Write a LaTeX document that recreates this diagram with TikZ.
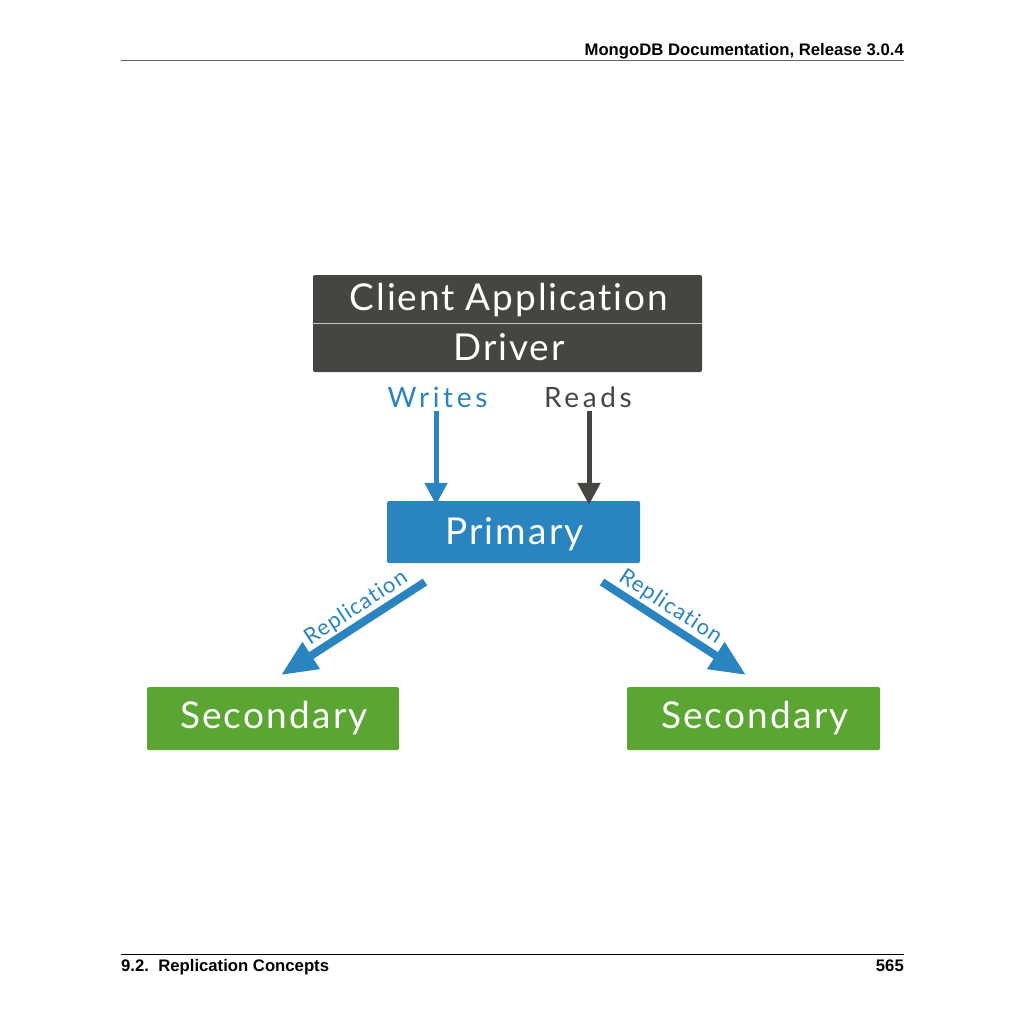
\documentclass[tikz,border=0pt]{standalone}
\usepackage{fontspec}
\setmainfont[Ligatures={NoCommon,NoDiscretionary,NoRare}]{Lato}
\newfontfamily\hdrfont{Liberation Sans}
\usetikzlibrary{arrows.meta}
\definecolor{darkbox}{HTML}{474541}
\definecolor{mblue}{HTML}{2A84C0}
\definecolor{mgreen}{HTML}{5BA532}
\tikzset{
  box/.style={rounded corners=1.5pt, inner sep=0pt},
  wtxt/.style={text=white, inner sep=0pt, anchor=base},
  bigtxt/.style={font=\fontsize{37}{42}\selectfont\addfontfeature{LetterSpace=5}},
  boxtxt/.style={font=\fontsize{37}{42}\selectfont\addfontfeature{LetterSpace=6}},
  lbl/.style={font=\fontsize{28}{32}\selectfont\addfontfeature{LetterSpace=13}, inner sep=0pt, anchor=base},
  replbl/.style={font=\fontsize{22}{26}\selectfont\addfontfeature{LetterSpace=5}, text=mblue, inner sep=0pt, anchor=base},
  hdr/.style={font=\hdrfont\bfseries\fontsize{16.7}{19}\selectfont, inner sep=0pt},
  vline/.style={line width=5pt, -{Triangle[length=22pt,width=22pt]}},
  rline/.style={line width=8pt, draw=mblue, -{Triangle[length=36pt,width=30pt]}},
}
\begin{document}
\begin{tikzpicture}[x=1pt,y=-1pt]
\useasboundingbox[fill=white] (0,0) rectangle (1025,1025);
% header / footer
\draw[line width=1pt, gray!80!black] (121,61) -- (904,61);
\node[hdr, anchor=base east] (hdrtxt) at (904,56) {MongoDB Documentation, Release 3.0.4};
\draw[line width=1pt, black] (121,954) -- (904,954);
\node[hdr, anchor=base west] (ftl) at (121,971) {9.2.\ \ Replication Concepts};
\node[hdr, anchor=base east] (ftr) at (904,971) {565};
% client box
\fill[darkbox, rounded corners=2pt] (313,275) rectangle (702,372);
\node[wtxt, bigtxt] (client) at (509,310) {Client Application};
\node[wtxt, bigtxt] (driver) at (509,360) {Driver};
\draw[white!70!darkbox, line width=1pt] (313,323) -- (702,323);
% labels
\node[lbl, text=mblue] (writes) at (437.5,407) {Writes};
\node[lbl, text=darkbox] (reads) at (588,407) {Reads};
% primary
\node[box, fill=mblue, minimum width=253pt, minimum height=62pt] (primary) at (513.5,532) {};
\node[wtxt, boxtxt] (primarytxt) at (514.5,544) {Primary};
% vertical arrows
\coordinate (wtop) at (436,411);
\coordinate (rtop) at (589,411);
\draw[vline, draw=mblue, fill=mblue] (wtop) -- ([yshift=-4pt]wtop |- primary.north);
\draw[vline, draw=darkbox, fill=darkbox] (rtop) -- ([yshift=-4pt]rtop |- primary.north);
% secondaries
\node[box, fill=mgreen, minimum width=252pt, minimum height=63pt] (sec1) at (273,718.5) {};
\node[wtxt, boxtxt] (sec1txt) at (274,728) {Secondary};
\node[box, fill=mgreen, minimum width=253pt, minimum height=63pt] (sec2) at (753.5,718.5) {};
\node[wtxt, boxtxt] (sec2txt) at (755,728) {Secondary};
% replication arrows
\coordinate (l0) at (425,582);
\coordinate (l1) at (281,675);
\coordinate (r0) at (602,582);
\coordinate (r1) at (746,675);
\draw[rline, fill=mblue] (l0) -- (l1);
\draw[rline, fill=mblue] (r0) -- (r1);
\node[replbl, rotate=33] (repl1) at (359.4,613.3) {Replication};
\node[replbl, rotate=-33] (repl2) at (667,612.3) {Replication};
\end{tikzpicture}
\end{document}
